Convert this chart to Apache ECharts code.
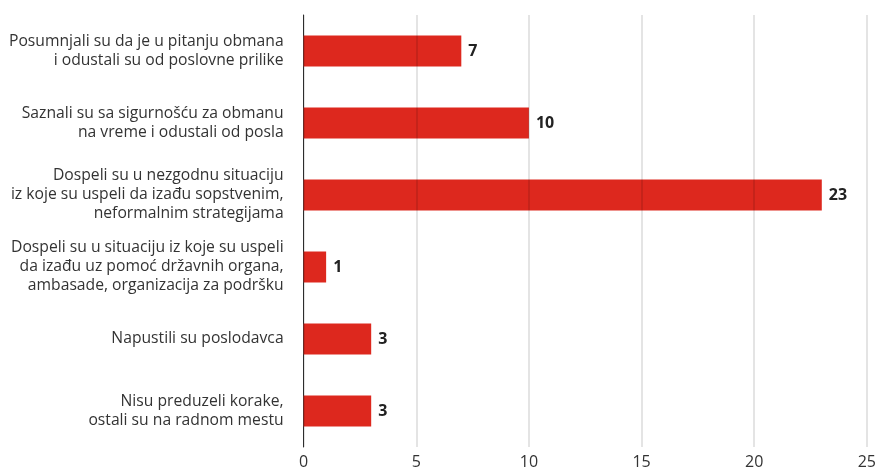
<!DOCTYPE html>
<html><head><meta charset="utf-8">
<script src="https://cdn.jsdelivr.net/npm/echarts@6/dist/echarts.min.js"></script>
<style>html,body{margin:0;padding:0;background:#fff}#c{width:879px;height:470px}</style>
</head><body><div id="c"></div>
<script>
const categories = [
  "Posumnjali su da je u pitanju obmana\ni odustali su od poslovne prilike",
  "Saznali su sa sigurnošću za obmanu\nna vreme i odustali od posla",
  "Dospeli su u nezgodnu situaciju\niz koje su uspeli da izađu sopstvenim,\nneformalnim strategijama",
  "Dospeli su u situaciju iz koje su uspeli\nda izađu uz pomoć državnih organa,\nambasade, organizacija za podršku",
  "Napustili su poslodavca",
  "Nisu preduzeli korake,\nostali su na radnom mestu"
];
const values = [7, 10, 23, 1, 3, 3];
const xTicks = [0, 5, 10, 15, 20, 25];

const chart = echarts.init(document.getElementById('c'), null, {renderer: 'canvas'});
const font = '"Open Sans", "Noto Sans", sans-serif';
chart.setOption({
  animation: false,
  grid: {left: 303.6, right: 11, top: 15, bottom: 19.5, containLabel: false},
  xAxis: {
    type: 'value', min: xTicks[0], max: xTicks[xTicks.length - 1], interval: 5,
    z: 5,
    axisLine: {show: false}, axisTick: {show: false},
    splitLine: {show: true, lineStyle: {color: 'rgba(0,0,0,0.14)', width: 1.5}},
    axisLabel: {color: '#333', fontSize: 16, fontFamily: font, margin: 7}
  },
  yAxis: {
    type: 'category', data: categories, inverse: true,
    axisLine: {show: true, lineStyle: {color: '#333', width: 1}},
    axisTick: {show: false},
    axisLabel: {color: '#333', fontSize: 15.7, fontFamily: font, margin: 20, lineHeight: 19, align: 'right'}
  },
  series: [{
    type: 'bar', data: values, barWidth: 31, z: 2,
    itemStyle: {color: '#dd281e'},
    label: {show: true, position: 'right', distance: 7, color: '#222', fontWeight: 'bold', fontSize: 16, fontFamily: font}
  }]
});
</script></body></html>
